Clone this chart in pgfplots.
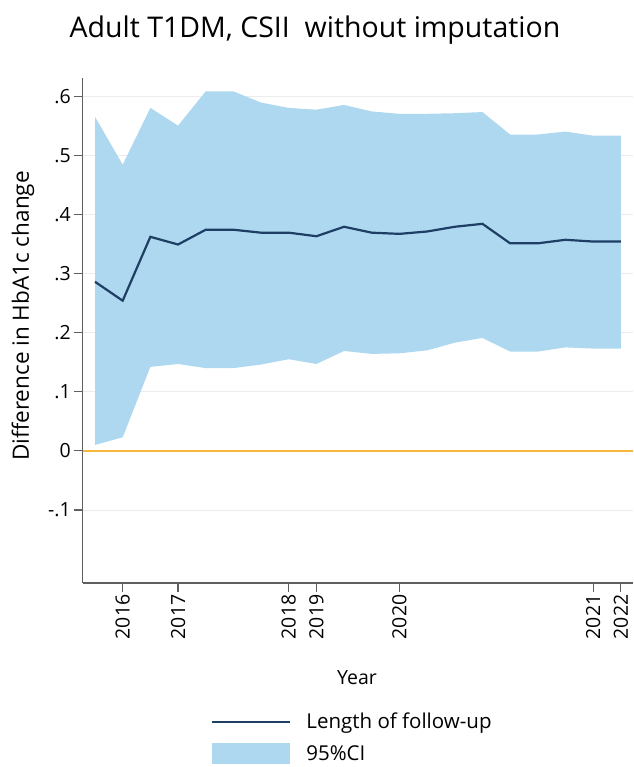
\documentclass[border=0pt]{standalone}
\usepackage{pgfplots}
\pgfplotsset{compat=1.18}
\usepackage{pgfplotstable}
\usepackage{fontspec}
\setmainfont{Open Sans}
\definecolor{cifill}{RGB}{173,216,240}
\definecolor{navyline}{RGB}{30,62,100}
\definecolor{zeroline}{RGB}{247,182,60}
\definecolor{axgray}{RGB}{95,95,95}
\definecolor{gridgray}{RGB}{236,236,236}

\pgfplotstableread{
x mid
0 0.286
1 0.254
2 0.362
3 0.349
4 0.374
5 0.374
6 0.369
7 0.369
8 0.363
9 0.379
10 0.369
11 0.367
12 0.371
13 0.379
14 0.384
15 0.351
16 0.351
17 0.357
18 0.354
19 0.354
}\middata

% 95% CI band: upper bound left to right, then lower bound right to left
\pgfplotstableread{
x ci
0 0.565
1 0.484
2 0.580
3 0.550
4 0.608
5 0.608
6 0.589
7 0.580
8 0.577
9 0.585
10 0.574
11 0.570
12 0.570
13 0.571
14 0.573
15 0.535
16 0.535
17 0.540
18 0.533
19 0.533
19 0.173
18 0.173
17 0.175
16 0.168
15 0.168
14 0.191
13 0.183
12 0.170
11 0.165
10 0.164
9 0.169
8 0.147
7 0.155
6 0.146
5 0.140
4 0.140
3 0.147
2 0.142
1 0.023
0 0.010
}\cidata

\begin{document}
\begin{tikzpicture}
\path[use as bounding box] (0pt,0pt) rectangle (633pt,767pt);
\begin{axis}[
  at={(82.5pt,184pt)}, anchor=south west,
  scale only axis, width=550.5pt, height=505pt,
  xmin=-0.452, xmax=19.44, ymin=-0.2234, ymax=0.6306,
  axis x line*=bottom, axis y line*=left,
  axis line style={axgray, line width=1.5pt, -},
  xtick={1,3,7,8,11,18,19},
  xticklabels={2016,2017,2018,2019,2020,2021,2022},
  ytick={-0.1,0,0.1,0.2,0.3,0.4,0.5,0.6},
  yticklabels={-.1,0,.1,.2,.3,.4,.5,.6},
  x tick label style={rotate=90, anchor=east, inner sep=2.5pt},
  y tick label style={inner sep=2.5pt},
  tick align=outside, major tick length=9pt,
  tick style={axgray, line width=1.1pt},
  ymajorgrids, grid style={gridgray, line width=0.9pt},
  tick label style={font=\fontsize{19.5}{22}\selectfont},
  /pgf/number format/assume math mode=true,
  reverse legend,
  legend style={at={(0.228,-0.2495)}, anchor=north west, draw=none, fill=none,
    font=\fontsize{20.5}{24}\selectfont, row sep=11pt},
  legend cell align=left,
]
\addplot[fill=cifill, draw=none,
  legend image code/.code={\fill[cifill] (0pt,-10.5pt) rectangle (78pt,10.5pt);
    \path[draw=none, fill=none] (0pt,0pt) -- (92pt,0pt);}]
  table[x=x, y=ci] {\cidata};
\addlegendentry{95\%CI}
\addplot[zeroline, line width=2.2pt, forget plot] coordinates {(-0.452,0) (19.44,0)};
\addplot[navyline, line width=2.2pt, mark=none,
  legend image code/.code={\draw[navyline, line width=2.4pt] (0pt,0pt) -- (78pt,0pt);
    \path[draw=none, fill=none] (0pt,0pt) -- (92pt,0pt);}]
  table[x=x, y=mid] {\middata};
\addlegendentry{Length of follow-up}
\end{axis}
\node[font=\fontsize{28.5}{32}\selectfont] at (315pt,737pt) {Adult T1DM, CSII\ \ without imputation};
\node[rotate=90, font=\fontsize{22.5}{26}\selectfont] at (23pt,451pt) {Difference in HbA1c change};
\node[font=\fontsize{19.5}{22}\selectfont] at (357pt,89pt) {Year};
\end{tikzpicture}
\end{document}
